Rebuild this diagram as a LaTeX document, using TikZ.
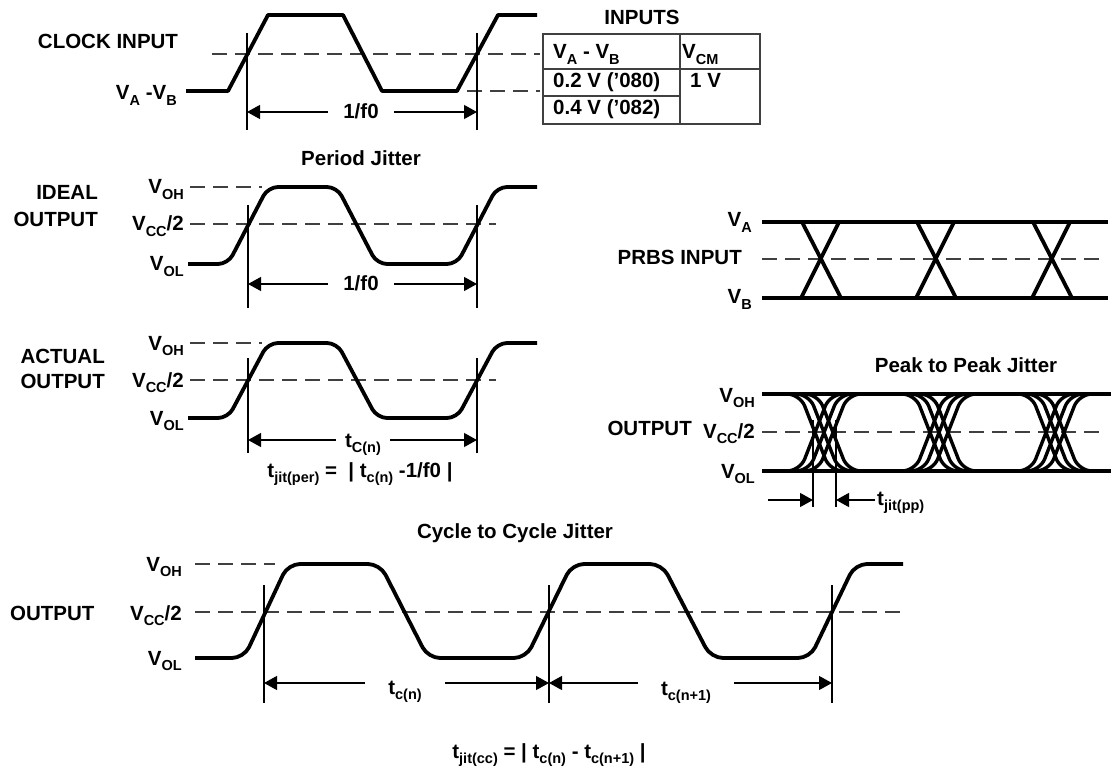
\documentclass[tikz,border=0pt]{standalone}
\usepackage{fontspec}
\setmainfont{Liberation Sans}
\usetikzlibrary{arrows.meta}
\newcommand{\sbs}[1]{\raisebox{-0.26em}{\fontsize{14.5}{15}\selectfont #1}}
\begin{document}
\begin{tikzpicture}[x=1pt,y=-1pt,
  txt/.style={font=\bfseries\fontsize{20.5}{24}\selectfont, inner sep=0pt},
  wave/.style={line width=3.8pt, line join=round},
  dsh/.style={line width=1.3pt, black!75, dash pattern=on 15pt off 8pt},
  vline/.style={line width=1.2pt},
  dim/.style={line width=1.2pt, {Triangle[length=13pt,width=14pt]}-{Triangle[length=13pt,width=14pt]}},
  sarr/.style={line width=1.2pt, -{Triangle[length=13pt,width=14pt]}},
  gap/.style={txt, fill=white, inner ysep=2pt},
  tbl/.style={line width=1.5pt, black!75},
  eye/.style={line width=3.4pt, rounded corners=13pt}
]
\useasboundingbox (0,0) rectangle (1111,767);

% ---------------- CLOCK INPUT ----------------
\node[txt, anchor=base] (clk) at (108,49) {CLOCK INPUT};
\node[txt, anchor=base east] (vavb) at (177,100) {V\sbs{A} -V\sbs{B}};
\draw[dsh] (212,54) -- (540,54);
\draw[dsh] (467,91) -- (540,91);
\draw[wave] (186,91) -- (228,91) -- (268,15) -- (343,15) -- (382,91) -- (457,91) -- (498,15) -- (537,15);
\coordinate (k1t) at (247,33); \coordinate (k1b) at (247,130);
\coordinate (k2t) at (477,33); \coordinate (k2b) at (477,130);
\draw[vline] (k1t) -- (k1b);
\draw[vline] (k2t) -- (k2b);
\coordinate (k1a) at (247,112); \coordinate (k2a) at (477,112);
\draw[dim] (k1a) -- (k2a);
\node[gap, inner xsep=15pt, anchor=base] (kf) at (361,119) {1/f0};

% ---------------- INPUTS table ----------------
\node[txt, anchor=base] (inp) at (642,25) {INPUTS};
\draw[tbl] (543,34) rectangle (760,124);
\draw[tbl] (543,69) -- (760,69);
\draw[tbl] (543,96) -- (680,96);
\draw[tbl] (680,34) -- (680,124);
\node[txt, anchor=base west] (th1) at (553,59) {V\sbs{A} - V\sbs{B}};
\node[txt, anchor=base west] (th2) at (682,59) {V\sbs{CM}};
\node[txt, anchor=base west] (r1) at (553,88) {0.2 V (’080)};
\node[txt, anchor=base west] (r1b) at (690,88) {1 V};
\node[txt, anchor=base west] (r2) at (553,115) {0.4 V (’082)};

% ---------------- Period Jitter ----------------
\node[txt, anchor=base] (pj) at (361,166) {Period Jitter};
\node[txt, anchor=base east] (ideal) at (98,200) {IDEAL};
\node[txt, anchor=base east] (ideal2) at (98,227) {OUTPUT};
\node[txt, anchor=base east] (ioh) at (184,194) {V\sbs{OH}};
\node[txt, anchor=base east] (icc) at (184,231) {V\sbs{CC}/2};
\node[txt, anchor=base east] (iol) at (184,271) {V\sbs{OL}};
\draw[dsh] (190,187) -- (262,187);
\draw[dsh] (190,224) -- (496,224);
\draw[wave, rounded corners=10pt] (188,264) -- (228,264) -- (268,187) -- (337,187) -- (377,264) -- (457,264) -- (497,187) -- (537,187);
\coordinate (i1t) at (248,205); \coordinate (i1b) at (248,308);
\coordinate (i2t) at (477,205); \coordinate (i2b) at (477,308);
\draw[vline] (i1t) -- (i1b);
\draw[vline] (i2t) -- (i2b);
\coordinate (i1a) at (248,284); \coordinate (i2a) at (477,284);
\draw[dim] (i1a) -- (i2a);
\node[gap, inner xsep=15pt, anchor=base] (if) at (361,291) {1/f0};

% ---------------- Actual output ----------------
\node[txt, anchor=base east] (act) at (105,363) {ACTUAL};
\node[txt, anchor=base east] (act2) at (105,388) {OUTPUT};
\node[txt, anchor=base east] (aoh) at (184,350) {V\sbs{OH}};
\node[txt, anchor=base east] (acc) at (184,387) {V\sbs{CC}/2};
\node[txt, anchor=base east] (aol) at (184,425) {V\sbs{OL}};
\draw[dsh] (190,343) -- (262,343);
\draw[dsh] (190,380) -- (496,380);
\draw[wave, rounded corners=10pt] (188,418) -- (228,418) -- (268,343) -- (337,343) -- (377,418) -- (457,418) -- (497,343) -- (537,343);
\coordinate (a1t) at (248,358); \coordinate (a1b) at (248,453);
\coordinate (a2t) at (477,358); \coordinate (a2b) at (477,453);
\draw[vline] (a1t) -- (a1b);
\draw[vline] (a2t) -- (a2b);
\coordinate (a1a) at (248,440); \coordinate (a2a) at (477,440);
\draw[dim] (a1a) -- (a2a);
\node[gap, inner xsep=9pt, anchor=base] (atc) at (363,447) {t\sbs{C(n)}};
\node[txt, anchor=base] (aform) at (360,477) {t\sbs{jit(per)} =~ | t\sbs{c(n)} -1/f0 |};

% ---------------- PRBS input ----------------
\node[txt, anchor=base east] (pva) at (752,227) {V\sbs{A}};
\node[txt, anchor=base east] (prbs) at (742,265) {PRBS INPUT};
\node[txt, anchor=base east] (pvb) at (752,304) {V\sbs{B}};
\draw[dsh] (762,259) -- (1103,259);
\draw[wave] (762,222) -- (1108,222);
\draw[wave] (762,298) -- (1108,298);
\foreach \c in {821,936,1052}{
  \draw[wave] (\c-19,222) -- (\c+20,298);
  \draw[wave] (\c+18,222) -- (\c-20,298);
}

% ---------------- Peak to Peak ----------------
\node[txt, anchor=base] (ppj) at (966,372) {Peak to Peak Jitter};
\node[txt, anchor=base east] (eoh) at (755,402) {V\sbs{OH}};
\node[txt, anchor=base east] (eout) at (692,435) {OUTPUT};
\node[txt, anchor=base east] (ecc) at (755,438) {V\sbs{CC}/2};
\node[txt, anchor=base east] (eol) at (755,478) {V\sbs{OL}};
\draw[dsh] (762,432) -- (1103,432);
\draw[wave] (762,394) -- (1111,394);
\draw[wave] (762,471) -- (1111,471);
\foreach \c in {824,939,1055}{
  \foreach \s in {-9,0,9}{
    \draw[eye] (\c+\s-40,394) -- (\c+\s-15,394) -- (\c+\s+15,471) -- (\c+\s+40,471);
    \draw[eye] (\c+\s-40,471) -- (\c+\s-15,471) -- (\c+\s+15,394) -- (\c+\s+40,394);
  }
}
\coordinate (j1t) at (813,420); \coordinate (j1b) at (813,507);
\coordinate (j2t) at (836,420); \coordinate (j2b) at (836,507);
\draw[vline] (j1t) -- (j1b);
\draw[vline] (j2t) -- (j2b);
\coordinate (j0) at (768,500); \coordinate (j1a) at (813,500);
\coordinate (j3) at (875,500); \coordinate (j2a) at (836,500);
\draw[sarr] (j0) -- (j1a);
\draw[sarr] (j3) -- (j2a);
\node[txt, anchor=base west] (tpp) at (877,505) {t\sbs{jit(pp)}};

% ---------------- Cycle to Cycle ----------------
\node[txt, anchor=base] (ccj) at (515,538) {Cycle to Cycle Jitter};
\node[txt, anchor=base west] (cout) at (10,620) {OUTPUT};
\node[txt, anchor=base east] (coh) at (182,571) {V\sbs{OH}};
\node[txt, anchor=base east] (ccc) at (182,620) {V\sbs{CC}/2};
\node[txt, anchor=base east] (col) at (182,665) {V\sbs{OL}};
\draw[dsh] (195,564) -- (275,564);
\draw[dsh] (195,612) -- (903,612);
\draw[wave, rounded corners=12pt] (195,658) -- (244,658) -- (288,564) -- (380,564) -- (428,658) -- (526,658) -- (572,564) -- (662,564) -- (711,658) -- (810,658) -- (855,564) -- (903,564);
\coordinate (c1t) at (264,585); \coordinate (c1b) at (264,703);
\coordinate (c2t) at (549,585); \coordinate (c2b) at (549,703);
\coordinate (c3t) at (832,585); \coordinate (c3b) at (832,703);
\draw[vline] (c1t) -- (c1b);
\draw[vline] (c2t) -- (c2b);
\draw[vline] (c3t) -- (c3b);
\coordinate (c1a) at (264,683); \coordinate (c2a) at (549,683); \coordinate (c3a) at (832,683);
\draw[dim] (c1a) -- (c2a);
\draw[dim] (c2a) -- (c3a);
\node[gap, inner xsep=23pt, anchor=base] (ctc) at (405,694) {t\sbs{c(n)}};
\node[gap, inner xsep=23pt, anchor=base] (ctc1) at (686,695) {t\sbs{c(n+1)}};
\node[txt, anchor=base] (cform) at (549,758) {t\sbs{jit(cc)} = | t\sbs{c(n)} - t\sbs{c(n+1)} |};
\end{tikzpicture}
\end{document}
